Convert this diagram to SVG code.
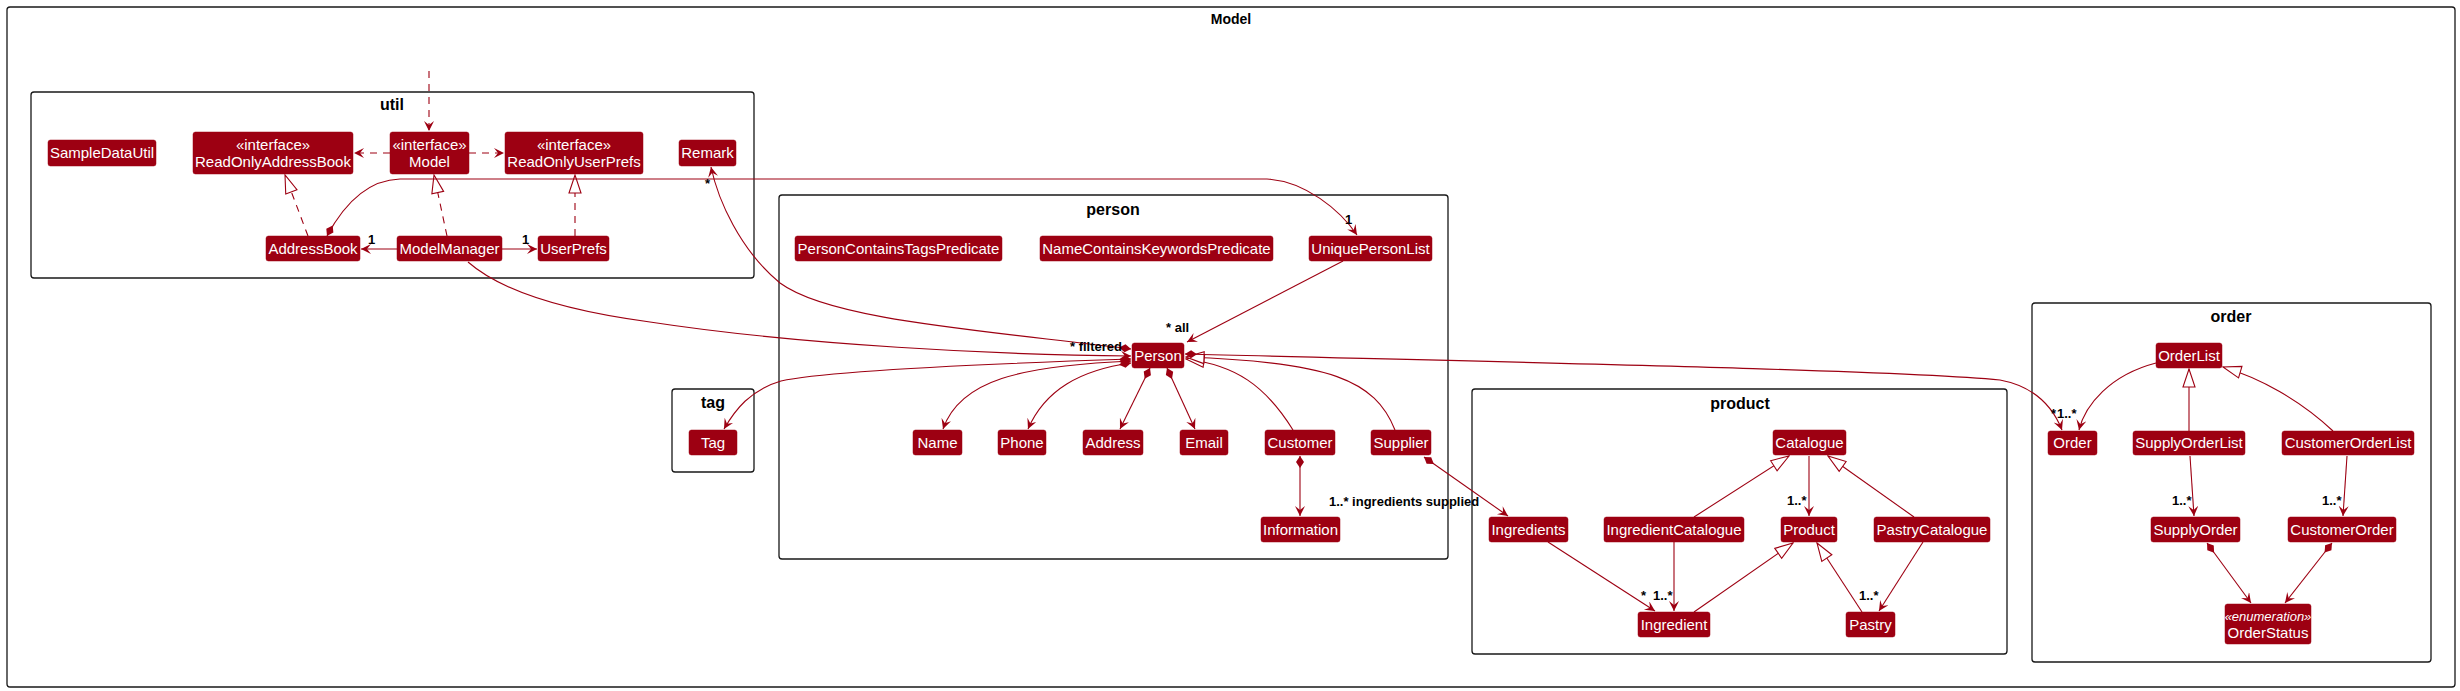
<svg xmlns="http://www.w3.org/2000/svg" width="2460" height="691" viewBox="0 0 2460 691">
<style>
.pkg{fill:#ffffff;stroke:#181818;stroke-width:1.3}
.ptitle{font-family:"Liberation Sans",Arial,sans-serif;font-size:16px;font-weight:bold;fill:#000;text-anchor:middle}
.node rect{fill:#9D0012;stroke:#9D0012;stroke-width:0.5}
.node text{font-family:"Liberation Sans",Arial,sans-serif;font-size:15px;fill:#ffffff;text-anchor:middle}
.node text.st{font-size:13px;font-style:italic}
.e{fill:none;stroke:#9D0012;stroke-width:1.1}
.d{stroke-dasharray:7,6}
.a{marker-end:url(#arrow)}
.t{marker-end:url(#tri)}
.c{marker-start:url(#dia)}
.lbl{font-family:"Liberation Sans",Arial,sans-serif;font-size:13px;font-weight:bold;fill:#000}
</style>
<defs>
<marker id="arrow" markerUnits="userSpaceOnUse" markerWidth="12" markerHeight="12" refX="10" refY="5" orient="auto"><path d="M0,0 L10,5 L0,10 L4,5 Z" fill="#9D0012"/></marker>
<marker id="tri" markerUnits="userSpaceOnUse" markerWidth="20" markerHeight="14" refX="19" refY="7" orient="auto"><path d="M1,1 L19,7 L1,13 Z" fill="#ffffff" stroke="#9D0012" stroke-width="1.1"/></marker>
<marker id="dia" markerUnits="userSpaceOnUse" markerWidth="15" markerHeight="10" refX="1" refY="5" orient="auto"><path d="M1,5 L7,1 L13,5 L7,9 Z" fill="#9D0012"/></marker>
</defs>
<rect width="2460" height="691" fill="#ffffff"/>
<g id="pkg-model"><rect class="pkg" x="7" y="7" width="2448" height="680" rx="3"/><text x="1231" y="24" class="ptitle" style="font-size:14px">Model</text></g>
<g id="pkg-util"><rect class="pkg" x="31" y="92" width="723" height="186" rx="3"/><text x="392" y="110" class="ptitle">util</text></g>
<g id="pkg-person"><rect class="pkg" x="779" y="195" width="669" height="364" rx="3"/><text x="1113" y="215" class="ptitle">person</text></g>
<g id="pkg-tag"><rect class="pkg" x="672" y="389" width="82" height="83" rx="3"/><text x="713" y="408" class="ptitle">tag</text></g>
<g id="pkg-product"><rect class="pkg" x="1472" y="389" width="535" height="265" rx="3"/><text x="1740" y="409" class="ptitle">product</text></g>
<g id="pkg-order"><rect class="pkg" x="2032" y="303" width="399" height="359" rx="3"/><text x="2231" y="322" class="ptitle">order</text></g>

<g id="connectors">
<path class="e d a" d="M429,71 L429,131"/>
<path class="e d a" d="M390,153 L354,153"/>
<path class="e d a" d="M469,153 L504,153"/>
<path class="e d t" d="M308,236 L285,175"/>
<path class="e d t" d="M447,236 L434,175"/>
<path class="e d t" d="M575,236 L575,175"/>
<path class="e a" d="M397,249 L361,249"/>
<path class="e a" d="M502,249 L537,249"/>
<path class="e c a" d="M327,236 C 342,208 365,180 400,179 L1267,179 C 1305,181 1340,210 1357,235"/>
<path class="e c a" d="M1131,349 C 980,330 830,320 780,283 C 740,250 718,200 711,167"/>
<path class="e a" d="M468,262 C 500,290 560,310 650,322 C 800,345 1000,355 1131,356"/>
<path class="e a" d="M1343,261 L1187,342"/>
<path class="e c a" d="M1131,359 C 950,365 820,372 781,381 C 750,390 735,410 724,429"/>
<path class="e c a" d="M1131,361 C 1020,366 960,380 943,429"/>
<path class="e c a" d="M1131,363 C 1080,370 1045,390 1028,429"/>
<path class="e c a" d="M1150,368 L1120,429"/>
<path class="e c a" d="M1167,368 L1195,429"/>
<path class="e t" d="M1293,430 C 1265,385 1235,365 1186,359"/>
<path class="e t" d="M1395,430 C 1375,380 1330,362 1186,357"/>
<path class="e c a" d="M1185,354 C 1500,362 1900,370 2000,380 C 2032,386 2052,405 2062,430"/>
<path class="e a" d="M2156,363 C 2110,375 2085,405 2079,430"/>
<path class="e c a" d="M1300,456 L1300,516"/>
<path class="e c a" d="M1424,457 L1508,516"/>
<path class="e t" d="M1694,517 L1789,456"/>
<path class="e t" d="M1914,517 L1828,456"/>
<path class="e a" d="M1809,456 L1809,516"/>
<path class="e a" d="M1548,542 L1655,611"/>
<path class="e a" d="M1674,542 L1674,611"/>
<path class="e t" d="M1694,612 L1793,543"/>
<path class="e t" d="M1862,612 L1817,543"/>
<path class="e a" d="M1923,542 L1879,611"/>
<path class="e t" d="M2189,431 L2189,369"/>
<path class="e t" d="M2333,431 C 2300,400 2260,378 2223,367"/>
<path class="e a" d="M2190,456 L2194,516"/>
<path class="e a" d="M2347,456 L2343,516"/>
<path class="e c a" d="M2207,543 L2251,603"/>
<path class="e c a" d="M2332,543 L2285,603"/>
<text class="lbl" x="368" y="244">1</text>
<text class="lbl" x="522" y="244">1</text>
<text class="lbl" x="1345" y="224">1</text>
<text class="lbl" x="705" y="188">*</text>
<text class="lbl" x="1166" y="332">* all</text>
<text class="lbl" x="1070" y="351">* filtered</text>
<text class="lbl" x="1329" y="506">1..* ingredients supplied</text>
<text class="lbl" x="1787" y="505">1..*</text>
<text class="lbl" x="1641" y="600">*</text>
<text class="lbl" x="1653" y="600">1..*</text>
<text class="lbl" x="1859" y="600">1..*</text>
<text class="lbl" x="2051" y="418">*</text>
<text class="lbl" x="2057" y="418">1..*</text>
<text class="lbl" x="2172" y="505">1..*</text>
<text class="lbl" x="2322" y="505">1..*</text>
</g>

<g id="SampleDataUtil" class="node"><rect x="48" y="140" width="108" height="26" rx="2.5"/><text x="102" y="158">SampleDataUtil</text></g>
<g id="ReadOnlyAddressBook" class="node"><rect x="193" y="132" width="160" height="42" rx="2.5"/><text x="273" y="150">«interface»</text><text x="273" y="167">ReadOnlyAddressBook</text></g>
<g id="Model" class="node"><rect x="390" y="132" width="79" height="42" rx="2.5"/><text x="429.5" y="150">«interface»</text><text x="429.5" y="167">Model</text></g>
<g id="ReadOnlyUserPrefs" class="node"><rect x="505" y="132" width="138" height="42" rx="2.5"/><text x="574" y="150">«interface»</text><text x="574" y="167">ReadOnlyUserPrefs</text></g>
<g id="Remark" class="node"><rect x="679" y="140" width="57" height="26" rx="2.5"/><text x="707.5" y="158">Remark</text></g>
<g id="AddressBook" class="node"><rect x="266" y="236" width="94" height="25" rx="2.5"/><text x="313" y="254">AddressBook</text></g>
<g id="ModelManager" class="node"><rect x="397" y="236" width="105" height="25" rx="2.5"/><text x="449.5" y="254">ModelManager</text></g>
<g id="UserPrefs" class="node"><rect x="538" y="236" width="71" height="25" rx="2.5"/><text x="573.5" y="254">UserPrefs</text></g>

<g id="PersonContainsTagsPredicate" class="node"><rect x="795" y="236" width="207" height="25" rx="2.5"/><text x="898.5" y="254">PersonContainsTagsPredicate</text></g>
<g id="NameContainsKeywordsPredicate" class="node"><rect x="1040" y="236" width="233" height="25" rx="2.5"/><text x="1156.5" y="254">NameContainsKeywordsPredicate</text></g>
<g id="UniquePersonList" class="node"><rect x="1309" y="236" width="123" height="25" rx="2.5"/><text x="1370.5" y="254">UniquePersonList</text></g>
<g id="Person" class="node"><rect x="1132" y="343" width="52" height="25" rx="2.5"/><text x="1158" y="361">Person</text></g>
<g id="Name" class="node"><rect x="913" y="430" width="49" height="25" rx="2.5"/><text x="937.5" y="448">Name</text></g>
<g id="Phone" class="node"><rect x="998" y="430" width="48" height="25" rx="2.5"/><text x="1022" y="448">Phone</text></g>
<g id="Address" class="node"><rect x="1083" y="430" width="60" height="25" rx="2.5"/><text x="1113" y="448">Address</text></g>
<g id="Email" class="node"><rect x="1180" y="430" width="48" height="25" rx="2.5"/><text x="1204" y="448">Email</text></g>
<g id="Customer" class="node"><rect x="1265" y="430" width="70" height="25" rx="2.5"/><text x="1300" y="448">Customer</text></g>
<g id="Supplier" class="node"><rect x="1371" y="430" width="60" height="25" rx="2.5"/><text x="1401" y="448">Supplier</text></g>
<g id="Information" class="node"><rect x="1261" y="517" width="79" height="25" rx="2.5"/><text x="1300.5" y="535">Information</text></g>
<g id="Tag" class="node"><rect x="689" y="430" width="48" height="25" rx="2.5"/><text x="713" y="448">Tag</text></g>

<g id="Catalogue" class="node"><rect x="1773" y="430" width="73" height="25" rx="2.5"/><text x="1809.5" y="448">Catalogue</text></g>
<g id="Ingredients" class="node"><rect x="1489" y="517" width="79" height="25" rx="2.5"/><text x="1528.5" y="535">Ingredients</text></g>
<g id="IngredientCatalogue" class="node"><rect x="1604" y="517" width="140" height="25" rx="2.5"/><text x="1674" y="535">IngredientCatalogue</text></g>
<g id="Product" class="node"><rect x="1781" y="517" width="56" height="25" rx="2.5"/><text x="1809" y="535">Product</text></g>
<g id="PastryCatalogue" class="node"><rect x="1874" y="517" width="116" height="25" rx="2.5"/><text x="1932" y="535">PastryCatalogue</text></g>
<g id="Ingredient" class="node"><rect x="1638" y="612" width="72" height="25" rx="2.5"/><text x="1674" y="630">Ingredient</text></g>
<g id="Pastry" class="node"><rect x="1846" y="612" width="49" height="25" rx="2.5"/><text x="1870.5" y="630">Pastry</text></g>

<g id="OrderList" class="node"><rect x="2156" y="343" width="66" height="25" rx="2.5"/><text x="2189" y="361">OrderList</text></g>
<g id="Order" class="node"><rect x="2048" y="431" width="49" height="24" rx="2.5"/><text x="2072.5" y="448">Order</text></g>
<g id="SupplyOrderList" class="node"><rect x="2133" y="431" width="112" height="24" rx="2.5"/><text x="2189" y="448">SupplyOrderList</text></g>
<g id="CustomerOrderList" class="node"><rect x="2282" y="431" width="132" height="24" rx="2.5"/><text x="2348" y="448">CustomerOrderList</text></g>
<g id="SupplyOrder" class="node"><rect x="2151" y="517" width="89" height="25" rx="2.5"/><text x="2195.5" y="535">SupplyOrder</text></g>
<g id="CustomerOrder" class="node"><rect x="2288" y="517" width="108" height="25" rx="2.5"/><text x="2342" y="535">CustomerOrder</text></g>
<g id="OrderStatus" class="node"><rect x="2225" y="604" width="86" height="40" rx="2.5"/><text class="st" x="2268" y="621">«enumeration»</text><text x="2268" y="638">OrderStatus</text></g>
</svg>
